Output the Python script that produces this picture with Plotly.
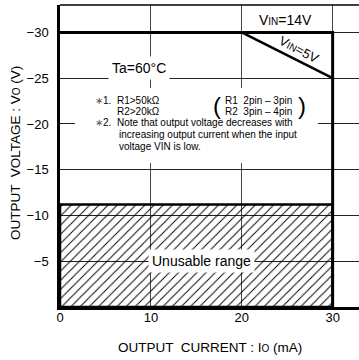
import plotly.graph_objects as go

# ---- data ----
vin14_x = [0, 30, 30]
vin14_y = [-30, -30, 0]
vin5_x = [20, 30]
vin5_y = [-30, -25]
unusable_x = [0, 30, 30, 0, 0]
unusable_y = [0, 0, -11.2, -11.2, 0]
x_ticks = [0, 10, 20, 30]
y_ticks = [-30, -25, -20, -15, -10, -5]
y_ticklabels = ["−30", "−25", "−20", "−15", "−10", "−5"]

W, H = 359, 360
L, R, T, B = 60, 0, 5, 53
X_MAX = 32.9
Y_MIN = -33.0

def dx(px):
    return (px - L) / (W - L - R) * X_MAX

def dy(py):
    return -(H - B - py) / (H - T - B) * (-Y_MIN)

FONT = "Arial, Liberation Sans, Helvetica, sans-serif"

fig = go.Figure()

fig.add_trace(go.Scatter(
    x=unusable_x, y=unusable_y, mode="lines", fill="toself",
    fillcolor="rgba(0,0,0,0)",
    fillpattern=dict(shape="/", size=6.5, solidity=0.15, fgcolor="black", fgopacity=1,
                     bgcolor="rgba(0,0,0,0)"),
    line=dict(color="black", width=2.5), hoverinfo="skip", showlegend=False))

fig.add_trace(go.Scatter(x=vin14_x, y=vin14_y, mode="lines",
                         line=dict(color="black", width=3), showlegend=False))
fig.add_trace(go.Scatter(x=vin5_x, y=vin5_y, mode="lines",
                         line=dict(color="black", width=2.5), showlegend=False))

shapes = [
    # white note box covering grid
    dict(type="rect", xref="x", yref="y", x0=dx(75), x1=dx(318), y0=dy(88), y1=dy(163),
         fillcolor="white", line=dict(width=0), layer="above"),
    # top border
    dict(type="line", xref="paper", yref="paper", x0=0, x1=1, y0=1, y1=1,
         line=dict(color="black", width=1.5)),
]

def note(text, px, py, size=10, anchor="left"):
    return dict(text=text, x=dx(px), y=dy(py), xref="x", yref="y", showarrow=False,
                xanchor=anchor, yanchor="middle", font=dict(family=FONT, size=size, color="black"))

small = '<span style="font-size:10px">%s</span>'

annotations = [
    dict(text="Ta=60°C", x=dx(139), y=dy(68), xref="x", yref="y", showarrow=False,
         font=dict(family=FONT, size=14, color="black"), bgcolor="white", borderpad=3),
    dict(text="Unusable range", x=dx(201), y=dy(261), xref="x", yref="y", showarrow=False,
         font=dict(family=FONT, size=14, color="black"), bgcolor="white", borderpad=3),
    dict(text="V" + small % "IN" + "=14V", x=dx(285), y=dy(20), xref="x", yref="y", showarrow=False,
         font=dict(family=FONT, size=14, color="black")),
    dict(text="V" + small % "IN" + "=5V", x=dx(299), y=dy(49), xref="x", yref="y", showarrow=False,
         textangle=28, font=dict(family=FONT, size=13, color="black")),
    note('<span style="color:#555">∗</span>1.', 93, 100),
    note("R1>50kΩ", 115, 100),
    note("R2>20kΩ", 115, 111),
    note('<span style="color:#555">∗</span>2.', 93, 122),
    note("Note that output voltage decreases with", 115, 122),
    note("increasing output current when the input", 117, 134),
    note("voltage VIN is low.", 117, 146),
    note("(", 211, 105, size=24),
    note("R1  2pin – 3pin", 223, 100),
    note("R2  3pin – 4pin", 223, 111),
    note(")", 296, 105, size=24),
    dict(text="OUTPUT  CURRENT : I" + '<span style="font-size:10px">O</span>' + " (mA)",
         x=(210 - L) / (W - L), y=(H - B - 347) / (H - T - B), xref="paper", yref="paper",
         xanchor="center", yanchor="middle",
         showarrow=False, font=dict(family=FONT, size=13.5, color="black")),
    dict(text="OUTPUT  VOLTAGE : V" + '<span style="font-size:10px">O</span>' + " (V)",
         x=(16 - L) / (W - L), y=(H - B - 153) / (H - T - B), xref="paper", yref="paper",
         xanchor="center", yanchor="middle",
         showarrow=False, textangle=-90, font=dict(family=FONT, size=13.5, color="black")),
]

fig.update_layout(
    width=W, height=H, margin=dict(l=L, r=R, t=T, b=B, pad=0),
    paper_bgcolor="white", plot_bgcolor="white",
    shapes=shapes, annotations=annotations, showlegend=False,
    font=dict(family=FONT, size=13, color="black"),
)
fig.update_xaxes(range=[0, X_MAX], tickvals=x_ticks, showgrid=True, gridcolor="#444", gridwidth=1,
                 showline=True, linecolor="black", linewidth=2.5, zeroline=False, ticks="",
                 automargin=False, ticklabelstandoff=-3,
                 tickfont=dict(family=FONT, size=13, color="black"), fixedrange=True)
fig.update_yaxes(range=[0, Y_MIN], tickvals=y_ticks, ticktext=y_ticklabels,
                 showgrid=True, gridcolor="#222", gridwidth=1,
                 showline=True, linecolor="black", linewidth=2.5, zeroline=False, ticks="",
                 ticklabelstandoff=6, automargin=False,
                 tickfont=dict(family=FONT, size=13, color="black"), fixedrange=True)

fig.write_html("out.html", config={"displayModeBar": False},
               post_script="document.body.style.margin='0';document.body.style.padding='0';")
